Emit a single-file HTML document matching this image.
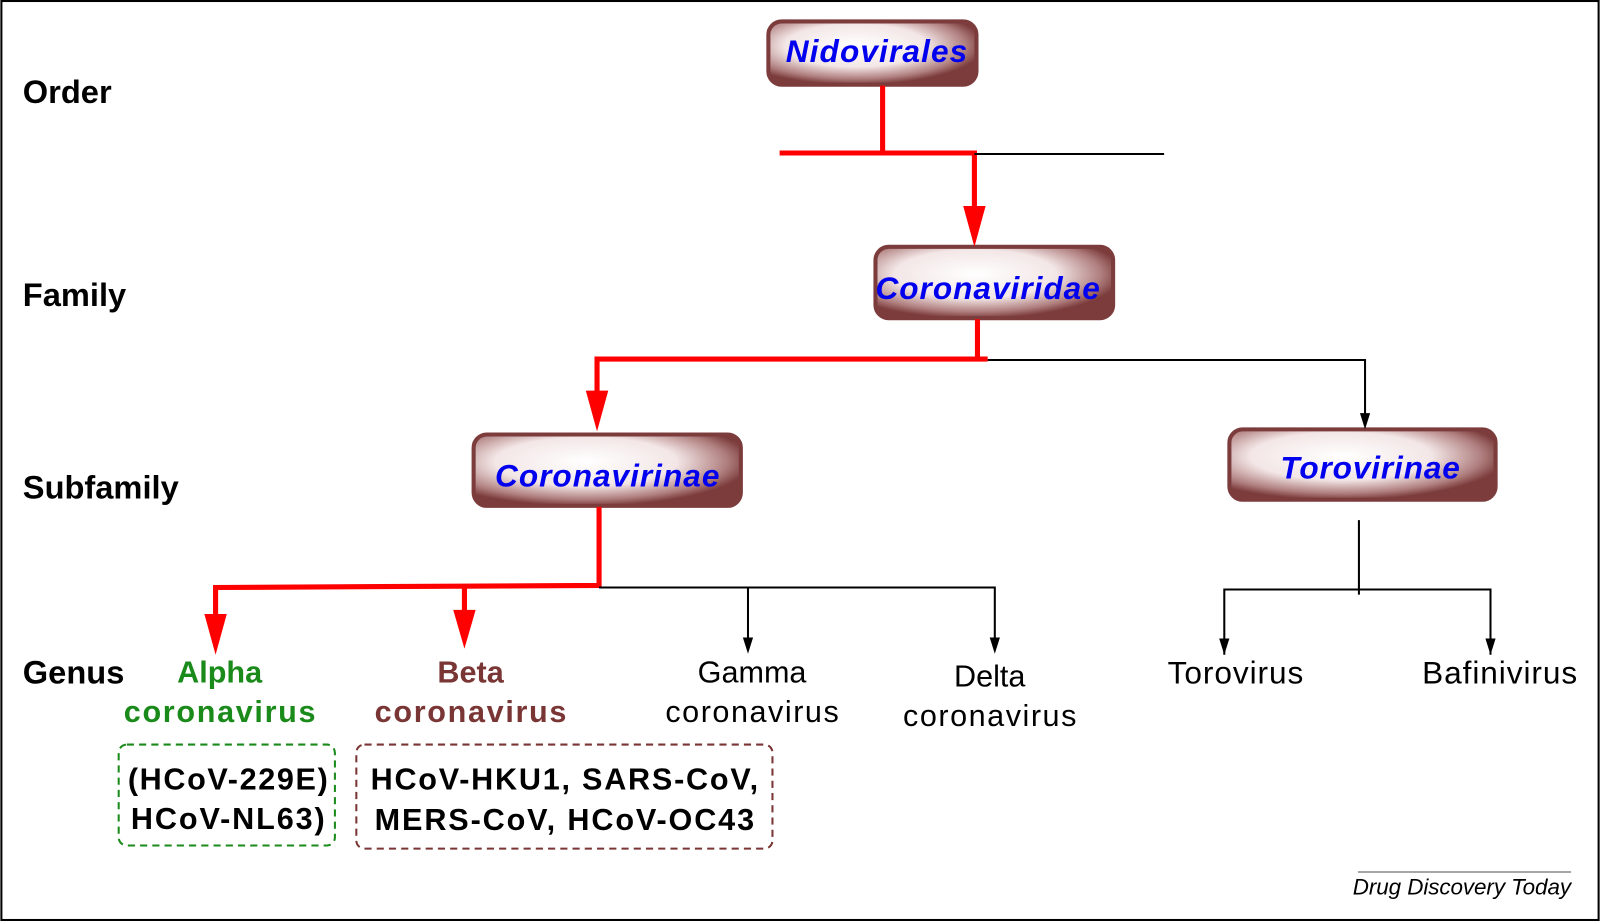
<!DOCTYPE html>
<html><head><style>html,body{margin:0;padding:0;background:#fff}svg{display:block}</style></head>
<body>
<svg width="1600" height="921" viewBox="0 0 1568 903" xmlns="http://www.w3.org/2000/svg" font-family="Liberation Sans, sans-serif">
<defs>
<radialGradient id="g" cx="0.42" cy="0.38" r="0.62">
<stop offset="0" stop-color="#ffffff"/><stop offset="0.55" stop-color="#f3e6e6"/><stop offset="0.85" stop-color="#b07f7f"/><stop offset="1" stop-color="#7c3c3c"/>
</radialGradient>
</defs>
<rect x="1" y="1" width="1566" height="901" fill="#fff" stroke="#000" stroke-width="2"/>
<g stroke="#7c3c3c" stroke-width="4" fill="url(#g)">
<rect x="753" y="21" width="204" height="62" rx="13"/>
<rect x="858" y="242" width="233" height="70" rx="13"/>
<rect x="464" y="426" width="262" height="70" rx="13"/>
<rect x="1205" y="421" width="261" height="69" rx="13"/>
</g>
<g fill="#0000ee" font-weight="bold" font-style="italic" font-size="31" text-anchor="middle">
<text x="859" y="61" textLength="178">Nidovirales</text>
<text x="968" y="293" textLength="220">Coronaviridae</text>
<text x="595" y="477" textLength="220">Coronavirinae</text>
<text x="1343" y="469" textLength="176">Torovirinae</text>
</g>
<g stroke="#ff0000" stroke-width="5" fill="none">
<polyline points="865,84 865,150"/>
<polyline points="764,150 955,150 955,205"/>
<polyline points="958,313 958,352"/>
<polyline points="968,352 585,352 585,388"/>
<polyline points="587,497 587,574 211,576 211,605"/>
<polyline points="455,575 455,600"/>
</g>
<g fill="#ff0000">
<polygon points="944,202 966,202 955,242"/>
<polygon points="574,383 596,383 585,423"/>
<polygon points="200,602 222,602 211,642"/>
<polygon points="444,598 466,598 455,636"/>
</g>
<g stroke="#000" stroke-width="2" fill="none">
<polyline points="955,151 1141,151"/>
<polyline points="968,353 1338,353 1338,410"/>
<polyline points="587,576 975,576 975,630"/>
<polyline points="733,576 733,630"/>
<polyline points="1332,510 1332,583"/>
<polyline points="1200,642 1200,578 1461,578 1461,642"/>
</g>
<g fill="#000">
<polygon points="1333,405 1343,405 1338,421"/>
<polygon points="728,625 738,625 733,641"/>
<polygon points="970,625 980,625 975,641"/>
<polygon points="1195,626 1205,626 1200,642"/>
<polygon points="1456,626 1466,626 1461,642"/>
</g>
<g font-weight="bold" font-size="32" fill="#000">
<text x="22" y="101">Order</text>
<text x="22" y="300">Family</text>
<text x="22" y="489">Subfamily</text>
<text x="22" y="670">Genus</text>
</g>
<g font-weight="bold" font-size="30" text-anchor="middle">
<text x="215" y="669" fill="#1a8a1a">Alpha</text>
<text x="215" y="708" fill="#1a8a1a" textLength="188">coronavirus</text>
<text x="461" y="669" fill="#7a3535">Beta</text>
<text x="461" y="708" fill="#7a3535" textLength="188">coronavirus</text>
</g>
<g font-size="30" text-anchor="middle" fill="#000">
<text x="737" y="669">Gamma</text>
<text x="737" y="708" textLength="170">coronavirus</text>
<text x="970" y="673">Delta</text>
<text x="970" y="712" textLength="170">coronavirus</text>
<text x="1211" y="670" font-size="31" textLength="133">Torovirus</text>
<text x="1470" y="670" font-size="31" textLength="152">Bafinivirus</text>
</g>
<rect x="116" y="730" width="212" height="99" rx="8" fill="none" stroke="#1a8a1a" stroke-width="2" stroke-dasharray="7,5"/>
<rect x="349" y="730" width="408" height="102" rx="8" fill="none" stroke="#7a3535" stroke-width="2" stroke-dasharray="7,5"/>
<g font-weight="bold" font-size="30" text-anchor="middle" fill="#000">
<text x="223" y="774" textLength="196">(HCoV-229E)</text>
<text x="223" y="813" textLength="190">HCoV-NL63)</text>
<text x="553" y="774" textLength="380">HCoV-HKU1, SARS-CoV,</text>
<text x="553" y="814" textLength="372">MERS-CoV, HCoV-OC43</text>
</g>
<line x1="1331" y1="855" x2="1540" y2="855" stroke="#888" stroke-width="1.5"/>
<text x="1540" y="877" font-size="22" font-style="italic" text-anchor="end" fill="#000" textLength="214">Drug Discovery Today</text>
</svg>
</body></html>
